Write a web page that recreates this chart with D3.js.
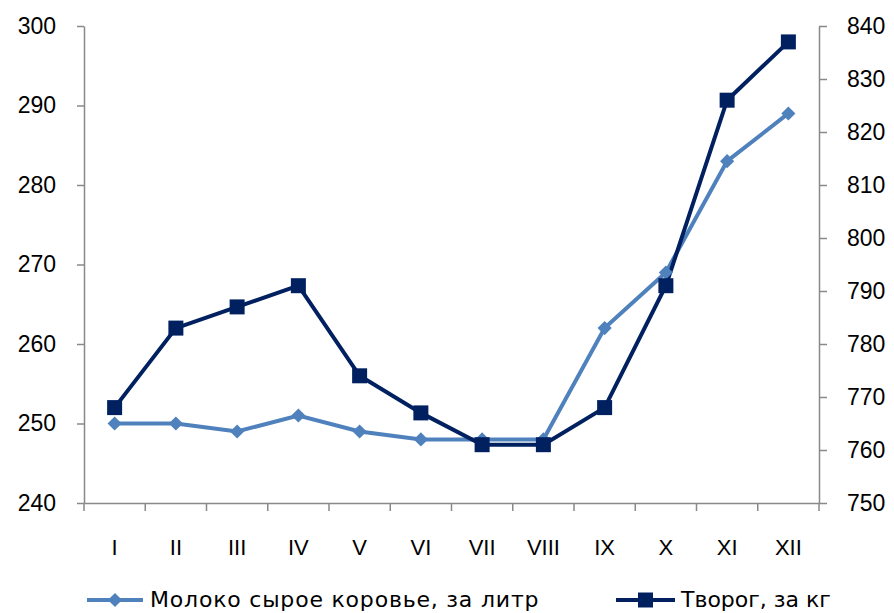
<!DOCTYPE html>
<html lang="ru">
<head>
    <meta charset="UTF-8">
    <title>Молоко и творог</title>
    <style>
        body, html {
            margin: 0;
            padding: 0;
            background-color: #ffffff;
        }
        svg {
            font-family: "DejaVu Sans", Verdana, sans-serif;
        }
        .axis text {
            font-size: 22px;
            fill: #000000;
        }
        .axis.y text {
            font-size: 23px;
        }
        .axis path, .axis line {
            stroke: #898989;
            stroke-width: 1.5px;
        }
        .legend text {
            font-size: 22px;
            fill: #000000;
        }
    </style>
</head>
<body>
    <div id="chart"></div>

    <script src="https://d3js.org/d3.v7.min.js"></script>
    <script>
        // months (roman numerals)
        const months = ['I', 'II', 'III', 'IV', 'V', 'VI', 'VII', 'VIII', 'IX', 'X', 'XI', 'XII'];
        // left axis series
        const milk = [250, 250, 249, 251, 249, 248, 248, 248, 262, 269, 283, 289];
        // right axis series
        const tvorog = [768, 783, 787, 791, 774, 767, 761, 761, 768, 791, 826, 837];
        const leftTicks = [240, 250, 260, 270, 280, 290, 300];
        const rightTicks = [750, 760, 770, 780, 790, 800, 810, 820, 830, 840];
        const seriesNames = ['Молоко сырое коровье, за литр', 'Творог, за кг'];

        const width = 894, height = 613;
        const milkColor = '#4f81bd';
        const tvorogColor = '#002060';

        const svg = d3.select('#chart').append('svg')
            .attr('width', width)
            .attr('height', height);

        const x = d3.scaleBand().domain(months).range([84, 819]);
        const yLeft = d3.scaleLinear().domain([240, 300]).range([503, 26]);
        const yRight = d3.scaleLinear().domain([750, 840]).range([503, 26]);

        // left axis
        svg.append('g')
            .attr('class', 'axis y')
            .attr('transform', 'translate(84,0)')
            .call(d3.axisLeft(yLeft).tickValues(leftTicks).tickSize(7).tickPadding(21).tickSizeOuter(0));

        // right axis
        svg.append('g')
            .attr('class', 'axis y')
            .attr('transform', 'translate(819,0)')
            .call(d3.axisRight(yRight).tickValues(rightTicks).tickSize(8).tickPadding(20).tickSizeOuter(0));

        // bottom axis: labels at band centres, ticks at band edges
        const xAxis = svg.append('g')
            .attr('class', 'axis')
            .attr('transform', 'translate(0,503)')
            .call(d3.axisBottom(x).tickSize(0).tickPadding(52).tickSizeOuter(0));
        xAxis.selectAll('.tick text').attr('dy', '0');

        const edges = months.map(m => x(m)).concat([x.range()[1]]);
        xAxis.selectAll('line.edge')
            .data(edges)
            .enter().append('line')
            .attr('class', 'edge')
            .attr('x1', d => d).attr('x2', d => d)
            .attr('y1', 0).attr('y2', 8);

        const cx = m => x(m) + x.bandwidth() / 2;

        const milkLine = d3.line().x((d, i) => cx(months[i])).y(d => yLeft(d));
        const tvorogLine = d3.line().x((d, i) => cx(months[i])).y(d => yRight(d));

        svg.append('path')
            .datum(milk)
            .attr('d', milkLine)
            .attr('fill', 'none')
            .attr('stroke', milkColor)
            .attr('stroke-width', 4);

        svg.append('path')
            .datum(tvorog)
            .attr('d', tvorogLine)
            .attr('fill', 'none')
            .attr('stroke', tvorogColor)
            .attr('stroke-width', 4);

        const diamond = d3.symbol().type(d3.symbolSquare).size(100);
        const square = d3.symbol().type(d3.symbolSquare).size(225);

        svg.selectAll('path.milk-pt')
            .data(milk)
            .enter().append('path')
            .attr('class', 'milk-pt')
            .attr('d', diamond)
            .attr('fill', milkColor)
            .attr('transform', (d, i) => `translate(${cx(months[i])},${yLeft(d)}) rotate(45)`);

        svg.selectAll('path.tvorog-pt')
            .data(tvorog)
            .enter().append('path')
            .attr('class', 'tvorog-pt')
            .attr('d', square)
            .attr('fill', tvorogColor)
            .attr('transform', (d, i) => `translate(${cx(months[i])},${yRight(d)})`);

        // legend
        const legend = svg.append('g').attr('class', 'legend');
        const legendItems = [
            { name: seriesNames[0], color: milkColor, sym: diamond, rot: 45, x0: 87, x1: 143, tx: 150, ls: 0.8 },
            { name: seriesNames[1], color: tvorogColor, sym: square, rot: 0, x0: 616, x1: 675, tx: 681, ls: 0 }
        ];
        const ly = 600;
        legendItems.forEach(it => {
            legend.append('line')
                .attr('x1', it.x0).attr('x2', it.x1)
                .attr('y1', ly).attr('y2', ly)
                .attr('stroke', it.color)
                .attr('stroke-width', 4);
            legend.append('path')
                .attr('d', it.sym)
                .attr('fill', it.color)
                .attr('transform', `translate(${(it.x0 + it.x1) / 2},${ly}) rotate(${it.rot})`);
            legend.append('text')
                .attr('x', it.tx)
                .attr('y', 607)
                .style('letter-spacing', it.ls + 'px')
                .text(it.name);
        });
    </script>
</body>
</html>
